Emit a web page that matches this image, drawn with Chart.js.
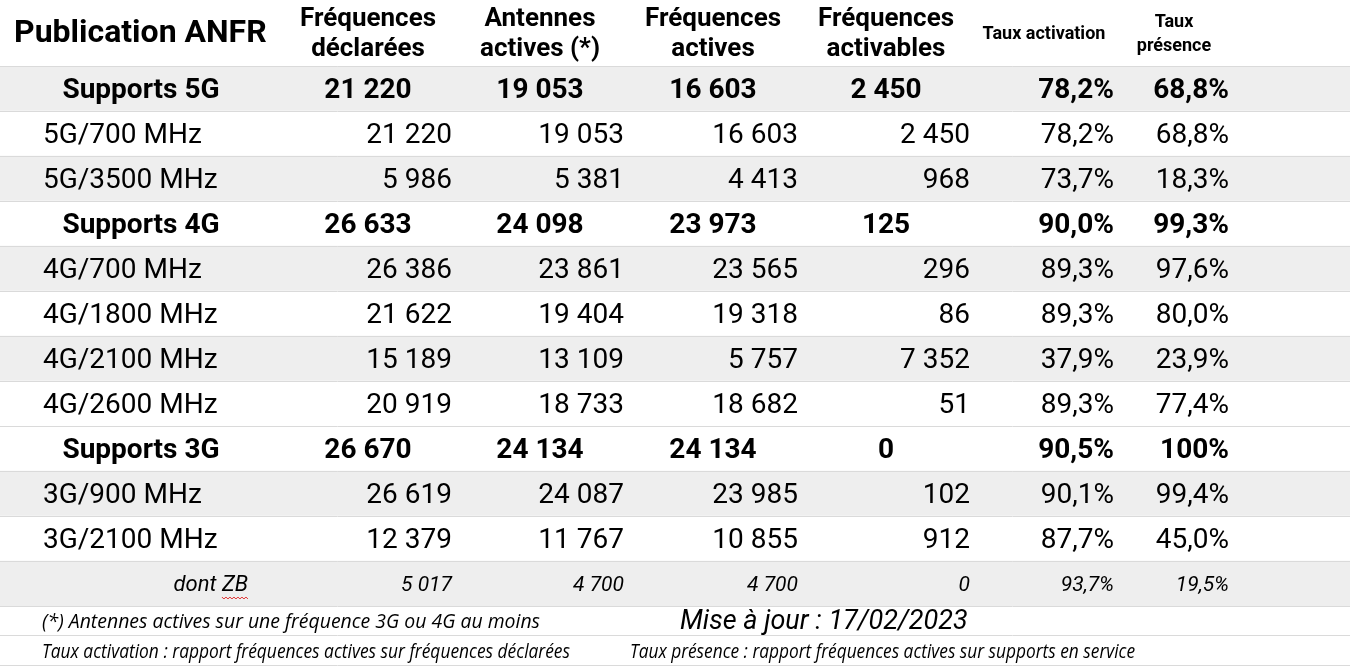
<!DOCTYPE html>
<html>
<head>
<title>Publication ANFR</title>
<script src="https://cdn.jsdelivr.net/npm/chart.js"></script>
<style>
  body { margin: 0; background: #fff; }
</style>
</head>
<body>
<canvas id="anfrTable" width="1350" height="668"></canvas>
<script>
// donnees du tableau
const rowLabels = ['Supports 5G', '5G/700 MHz', '5G/3500 MHz', 'Supports 4G', '4G/700 MHz', '4G/1800 MHz',
  '4G/2100 MHz', '4G/2600 MHz', 'Supports 3G', '3G/900 MHz', '3G/2100 MHz', 'dont ZB'];
const rowKinds = ['total', 'sub', 'sub', 'total', 'sub', 'sub', 'sub', 'sub', 'total', 'sub', 'sub', 'zb'];
const declarees = [21220, 21220, 5986, 26633, 26386, 21622, 15189, 20919, 26670, 26619, 12379, 5017];
const antennesActives = [19053, 19053, 5381, 24098, 23861, 19404, 13109, 18733, 24134, 24087, 11767, 4700];
const frequencesActives = [16603, 16603, 4413, 23973, 23565, 19318, 5757, 18682, 24134, 23985, 10855, 4700];
const activables = [2450, 2450, 968, 125, 296, 86, 7352, 51, 0, 102, 912, 0];
const tauxActivation = [78.2, 78.2, 73.7, 90.0, 89.3, 89.3, 37.9, 89.3, 90.5, 90.1, 87.7, 93.7];
const tauxPresence = [68.8, 68.8, 18.3, 99.3, 97.6, 80.0, 23.9, 77.4, 100, 99.4, 45.0, 19.5];
const columnTitles = [['Fréquences', 'déclarées'], ['Antennes', 'actives (*)'], ['Fréquences', 'actives'],
  ['Fréquences', 'activables'], ['Taux activation'], ['Taux', 'présence']];
const tableTitle = 'Publication ANFR';
const notes = ['(*) Antennes actives sur une fréquence 3G ou 4G au moins',
  'Taux activation : rapport fréquences actives sur fréquences déclarées',
  'Taux présence : rapport fréquences actives sur supports en service'];
const updateNote = 'Mise à jour : 17/02/2023';

// mise en page (unites de l'axe x, 0..1350)
const rowShades = ['#eeeeee', '#ffffff', '#eeeeee', '#ffffff', '#eeeeee', '#ffffff',
  '#eeeeee', '#ffffff', '#ffffff', '#eeeeee', '#ffffff', '#eeeeee'];
const colRight = [452, 624, 798, 970, 1114, 1229];
const colCenter = [368, 540, 713, 886, 1044, 1174];
const noteBoxes = [[42, 540], [42, 570], [630, 1135]];
const lineColor = '#dadada';

const fmtNum = v => String(v).replace(/\B(?=(\d{3})+(?!\d))/g, ' ');
const fmtPct = v => (v === 100 ? '100' : v.toFixed(1).replace('.', ',')) + '%';

function put(ctx, s, x, y, font, align, sx) {
  ctx.save();
  ctx.font = font;
  ctx.textAlign = align;
  ctx.translate(x, y);
  ctx.scale(sx || 1, 1);
  ctx.fillText(s, 0, 0);
  ctx.restore();
}

// texte comprime pour tenir entre deux bornes
function fit(ctx, s, x0, x1, y, font) {
  ctx.save();
  ctx.font = font;
  const w = ctx.measureText(s).width;
  ctx.restore();
  put(ctx, s, x0, y, font, 'left', (x1 - x0) / w);
}

const tablePlugin = {
  id: 'tableText',
  afterDatasetsDraw(chart) {
    const { ctx, chartArea, scales: { x, y } } = chart;
    const n = rowLabels.length;
    const h = (chartArea.bottom - chartArea.top) / n;
    const top = chartArea.top;
    const b = chartArea.bottom;

    // lignes de separation
    ctx.save();
    ctx.strokeStyle = lineColor;
    ctx.lineWidth = 1;
    const seps = [];
    for (let i = 0; i < n; i++) seps.push(y.getPixelForValue(i) - h / 2);
    seps.push(y.getPixelForValue(n - 1) + h / 2);
    seps.push(b + 29, b + 59);
    seps.forEach(py => {
      ctx.beginPath();
      ctx.moveTo(x.left, Math.round(py) + 0.5);
      ctx.lineTo(x.right, Math.round(py) + 0.5);
      ctx.stroke();
    });
    ctx.restore();

    ctx.save();
    ctx.fillStyle = '#000';
    ctx.textBaseline = 'middle';

    // en-tetes
    put(ctx, tableTitle, x.getPixelForValue(14), top - 32, 'bold 32px Roboto', 'left');
    columnTitles.forEach((lines, c) => {
      const cx = x.getPixelForValue(colCenter[c]);
      if (c < 4) {
        put(ctx, lines[0], cx, top - 47, 'bold 26px Roboto', 'center');
        put(ctx, lines[1], cx, top - 17, 'bold 26px Roboto', 'center');
      } else if (lines.length === 1) {
        put(ctx, lines[0], cx, top - 32, 'bold 18px Roboto', 'center');
      } else {
        put(ctx, lines[0], cx, top - 44, 'bold 18px Roboto', 'center');
        put(ctx, lines[1], cx, top - 20, 'bold 18px Roboto', 'center');
      }
    });

    // cellules
    const cols = [declarees, antennesActives, frequencesActives, activables, tauxActivation, tauxPresence];
    rowLabels.forEach((label, i) => {
      const py = y.getPixelForValue(i) + 2;
      const kind = rowKinds[i];
      if (kind === 'total') {
        put(ctx, label, x.getPixelForValue(141), py, 'bold 28px Roboto', 'center');
      } else if (kind === 'sub') {
        put(ctx, label, x.getPixelForValue(43), py, '28px Roboto', 'left');
      } else {
        const rx = x.getPixelForValue(248);
        put(ctx, label, rx, py, 'italic 22px Roboto', 'right');
        // soulignement ondule du correcteur sous "ZB"
        ctx.font = 'italic 22px Roboto';
        const wz = ctx.measureText('ZB').width;
        ctx.save();
        ctx.strokeStyle = '#e03030';
        ctx.lineWidth = 1;
        ctx.beginPath();
        for (let k = 0; k <= Math.round(wz); k += 2) {
          const yy = py + 12 + ((k / 2) % 2 ? 1.5 : -0.5);
          if (k === 0) ctx.moveTo(rx - wz + k, yy); else ctx.lineTo(rx - wz + k, yy);
        }
        ctx.stroke();
        ctx.restore();
      }
      cols.forEach((arr, c) => {
        const s = c < 4 ? fmtNum(arr[i]) : fmtPct(arr[i]);
        if (kind === 'total') {
          if (c < 4) put(ctx, s, x.getPixelForValue(colCenter[c]), py, 'bold 28px Roboto', 'center');
          else put(ctx, s, x.getPixelForValue(colRight[c]), py, 'bold 28px Roboto', 'right');
        } else if (kind === 'sub') {
          put(ctx, s, x.getPixelForValue(colRight[c]), py, '28px Roboto', 'right');
        } else {
          put(ctx, s, x.getPixelForValue(colRight[c]), py, 'italic 21px Roboto', 'right');
        }
      });
    });

    // notes de bas de tableau
    fit(ctx, notes[0], x.getPixelForValue(noteBoxes[0][0]), x.getPixelForValue(noteBoxes[0][1]), b + 16, 'italic 20px "Open Sans"');
    put(ctx, updateNote, x.getPixelForValue(680), b + 16, 'italic 27px Roboto', 'left');
    fit(ctx, notes[1], x.getPixelForValue(noteBoxes[1][0]), x.getPixelForValue(noteBoxes[1][1]), b + 46, 'italic 20px "Open Sans"');
    fit(ctx, notes[2], x.getPixelForValue(noteBoxes[2][0]), x.getPixelForValue(noteBoxes[2][1]), b + 46, 'italic 20px "Open Sans"');
    ctx.restore();
  }
};

const ctx = document.getElementById('anfrTable').getContext('2d');
const anfrChart = new Chart(ctx, {
  type: 'bar',
  data: {
    labels: rowLabels,
    datasets: [{
      data: rowLabels.map(() => [0, 1350]),
      backgroundColor: rowShades,
      borderWidth: 0,
      barPercentage: 1,
      categoryPercentage: 1
    }]
  },
  options: {
    indexAxis: 'y',
    responsive: false,
    animation: false,
    devicePixelRatio: 1,
    layout: { padding: { top: 66, bottom: 62, left: 0, right: 0 } },
    scales: {
      x: { type: 'linear', min: 0, max: 1350, display: false },
      y: { display: false }
    },
    plugins: {
      legend: { display: false },
      tooltip: { enabled: false }
    }
  },
  plugins: [tablePlugin]
});
</script>
</body>
</html>
